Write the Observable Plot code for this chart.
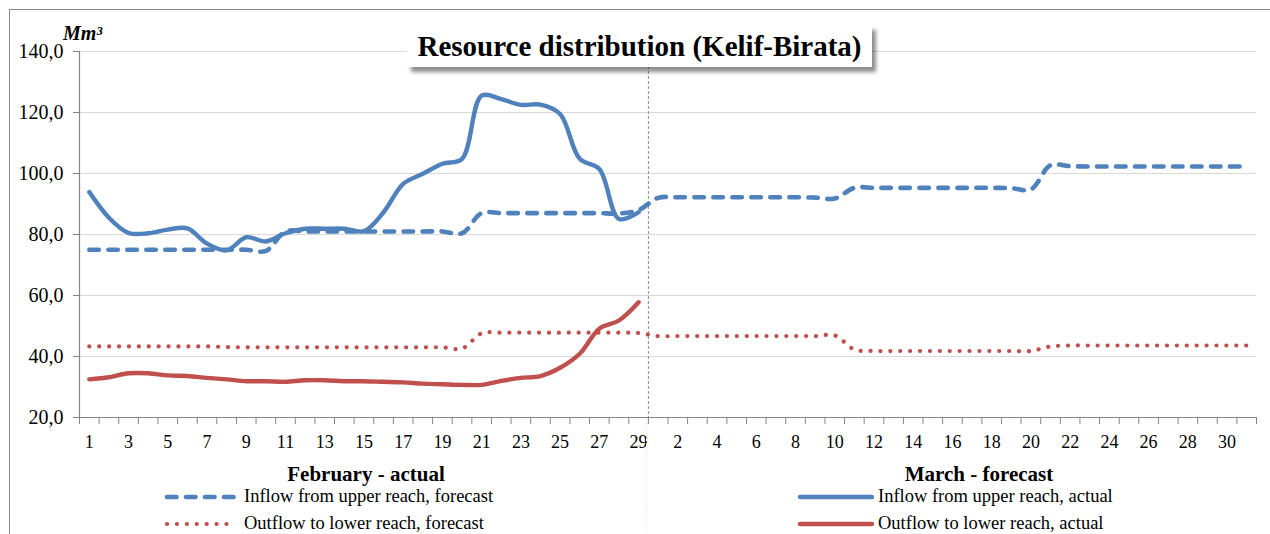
<!DOCTYPE html>
<html><head><meta charset="utf-8">
<script src="https://cdn.jsdelivr.net/npm/d3@7"></script>
<script src="https://cdn.jsdelivr.net/npm/@observablehq/plot@0.6"></script>
<style>
body{margin:0;background:#fff;}
#wrap{position:relative;width:1270px;height:534px;overflow:hidden;font-family:"Liberation Serif","Times New Roman",serif;color:#000;}
#frame{position:absolute;left:9px;top:9px;width:1400px;height:700px;border-left:1px solid #8c8c8c;border-top:1px solid #8c8c8c;}
#chart{position:absolute;left:0;top:0;}
#title{position:absolute;left:407px;top:25px;width:465px;height:42px;background:#fff;box-shadow:4px 5px 4px rgba(0,0,0,0.45);font-weight:bold;font-size:29px;line-height:42px;text-align:center;white-space:nowrap;}
#unit{position:absolute;left:63px;top:22px;font-weight:bold;font-style:italic;font-size:20px;}
.month{position:absolute;top:462px;font-weight:bold;font-size:21px;white-space:nowrap;transform:translateX(-50%);}
.leg{position:absolute;font-size:18.5px;white-space:nowrap;line-height:22px;}
#sep{position:absolute;left:646px;top:418px;width:0;height:120px;border-left:1px dashed #ececec;}
</style></head>
<body>
<div id="wrap">
  <div id="frame"></div>
  <div id="chart"></div>
  <div id="sep"></div>
  <div id="title">Resource distribution (Kelif-Birata)</div>
  <div id="unit">Mm³</div>
  <div class="month" style="left:366px">February - actual</div>
  <div class="month" style="left:979px">March - forecast</div>
</div>
<script>
// Categories: February (actual) days then March (forecast) days
const febDays = [1,2,3,4,5,6,7,8,9,10,11,12,13,14,15,16,17,18,19,20,21,22,23,24,25,26,27,28,29];
const marDays = [1,2,3,4,5,6,7,8,9,10,11,12,13,14,15,16,17,18,19,20,21,22,23,24,25,26,27,28,29,30,31];
const dayLabels = febDays.concat(marDays);

// Y axis ticks
const yTicks = [20, 40, 60, 80, 100, 120, 140];

// Inflow from upper reach, actual (February)
const inflowActual = [93.9, 85.5, 80.5, 80.4, 81.6, 82.0, 77.0, 74.8, 79.1, 77.7,
  80.4, 81.9, 81.9, 81.9, 81.1, 87.3, 96.6, 99.9, 103.2, 104.8,
  125.5, 124.4, 122.5, 122.6, 119.5, 104.8, 101.5, 85.1, 87.3];

// Outflow to lower reach, actual (February)
const outflowActual = [32.5, 33.2, 34.5, 34.5, 33.8, 33.6, 33.0, 32.5, 31.9, 31.9,
  31.7, 32.2, 32.2, 31.9, 31.9, 31.7, 31.5, 31.1, 30.9, 30.7,
  30.7, 32.0, 33.0, 33.6, 36.3, 40.9, 49.1, 51.8, 57.8];

// Inflow from upper reach, forecast (February + March)
const inflowForecast = [75.0, 75.0, 75.0, 75.0, 75.0, 75.0, 75.0, 75.0, 75.0, 74.6,
  81.0, 81.0, 81.0, 81.0, 81.0, 81.0, 81.0, 81.0, 81.0, 80.4,
  87.0, 87.0, 87.0, 87.0, 87.0, 87.0, 87.0, 86.9, 88.0,
  92.0, 92.2, 92.2, 92.2, 92.2, 92.2, 92.2, 92.2, 92.1, 91.8,
  95.3, 95.3, 95.3, 95.3, 95.3, 95.3, 95.3, 95.3, 95.2, 94.8,
  102.7, 102.4, 102.3, 102.3, 102.3, 102.3, 102.3, 102.3, 102.3, 102.3, 102.3];

// Outflow to lower reach, forecast (February + March)
const outflowForecast = [43.3, 43.3, 43.3, 43.3, 43.3, 43.3, 43.3, 43.1, 43.0, 43.0,
  43.0, 43.0, 43.0, 43.0, 43.0, 43.0, 43.0, 43.0, 43.0, 42.6,
  47.6, 47.8, 47.8, 47.8, 47.8, 47.8, 47.8, 47.8, 47.7,
  46.7, 46.7, 46.7, 46.7, 46.7, 46.7, 46.7, 46.7, 46.7, 46.9,
  42.3, 41.8, 41.8, 41.8, 41.8, 41.8, 41.8, 41.8, 41.8, 41.8,
  43.3, 43.6, 43.6, 43.6, 43.6, 43.6, 43.6, 43.6, 43.6, 43.6, 43.6];

const BLUE = "#4f81bd", RED = "#c0504d", AXIS = "#868686";
const DOT = "0.1,9.8", DASH = "9.5,9.5";

const rows = vals => vals.map((v, k) => ({i: k + 1, v}));
const nCat = dayLabels.length;
const boundaries = d3.range(0.5, nCat + 1, 1);
const labelIdx = d3.range(1, nCat, 2);

const chart = Plot.plot({
  width: 1270, height: 534,
  marginTop: 51, marginBottom: 117, marginLeft: 79, marginRight: 14,
  style: {fontFamily: '"Liberation Serif","Times New Roman",serif', color: "#000", background: "transparent"},
  x: {domain: [0.5, nCat + 0.5], axis: null},
  y: {domain: [20, 140], axis: null},
  marks: [
    Plot.gridY(yTicks.filter(d => d > 20), {stroke: "#d9d9d9", strokeOpacity: 1}),
    Plot.ruleX([febDays.length + 0.5], {stroke: "#8a8a8a", strokeDasharray: "3,2"}),
    Plot.ruleX([0.5], {stroke: AXIS, strokeWidth: 1.2}),
    Plot.ruleY([20], {stroke: AXIS, strokeWidth: 1.2}),
    Plot.axisY({ticks: yTicks, label: null, tickSize: 6, tickPadding: 10, stroke: AXIS, fill: "#000", fontSize: 20,
      tickFormat: d => d.toFixed(1).replace(".", ",")}),
    Plot.axisX({ticks: boundaries, label: null, tickSize: 7, stroke: AXIS, tickFormat: () => ""}),
    Plot.axisX({ticks: labelIdx, label: null, tickSize: 0, tickPadding: 18, fill: "#000", fontSize: 18,
      tickFormat: d => String(dayLabels[d - 1])}),
    Plot.line(rows(outflowForecast), {x: "i", y: "v", curve: "catmull-rom", stroke: RED, strokeWidth: 4.2,
      strokeDasharray: DOT, strokeLinecap: "round"}),
    Plot.line(rows(inflowForecast), {x: "i", y: "v", curve: "catmull-rom", stroke: BLUE, strokeWidth: 4.6,
      strokeDasharray: DASH, strokeLinecap: "round"}),
    Plot.line(rows(outflowActual), {x: "i", y: "v", curve: "catmull-rom", stroke: RED, strokeWidth: 4.4,
      strokeLinecap: "round"}),
    Plot.line(rows(inflowActual), {x: "i", y: "v", curve: "catmull-rom", stroke: BLUE, strokeWidth: 4.4,
      strokeLinecap: "round"})
  ]
});
document.getElementById("chart").appendChild(chart);

// Legend
const legendItems = [
  {label: "Inflow from upper reach, forecast", color: BLUE, dash: DASH, w: 4.6, x: 167, len: 71, tx: 244, y: 497},
  {label: "Outflow to lower reach, forecast", color: RED, dash: DOT, w: 4.2, x: 167, len: 63, tx: 244, y: 524},
  {label: "Inflow from upper reach, actual", color: BLUE, dash: null, w: 4.4, x: 800, len: 72, tx: 878, y: 497},
  {label: "Outflow to lower reach, actual", color: RED, dash: null, w: 4.4, x: 800, len: 72, tx: 878, y: 524}
];
const wrap = document.getElementById("wrap");
const ns = "http://www.w3.org/2000/svg";
for (const it of legendItems) {
  const svg = document.createElementNS(ns, "svg");
  svg.setAttribute("width", it.len + 6); svg.setAttribute("height", 10);
  svg.style.position = "absolute"; svg.style.left = (it.x - 3) + "px"; svg.style.top = (it.y - 5) + "px";
  const ln = document.createElementNS(ns, "line");
  ln.setAttribute("x1", 3); ln.setAttribute("x2", it.len + 3); ln.setAttribute("y1", 5); ln.setAttribute("y2", 5);
  ln.setAttribute("stroke", it.color); ln.setAttribute("stroke-width", it.w); ln.setAttribute("stroke-linecap", "round");
  if (it.dash) ln.setAttribute("stroke-dasharray", it.dash);
  svg.appendChild(ln);
  wrap.appendChild(svg);
  const t = document.createElement("div");
  t.className = "leg"; t.textContent = it.label;
  t.style.left = it.tx + "px"; t.style.top = (it.y - 12) + "px";
  wrap.appendChild(t);
}
</script>
</body></html>
